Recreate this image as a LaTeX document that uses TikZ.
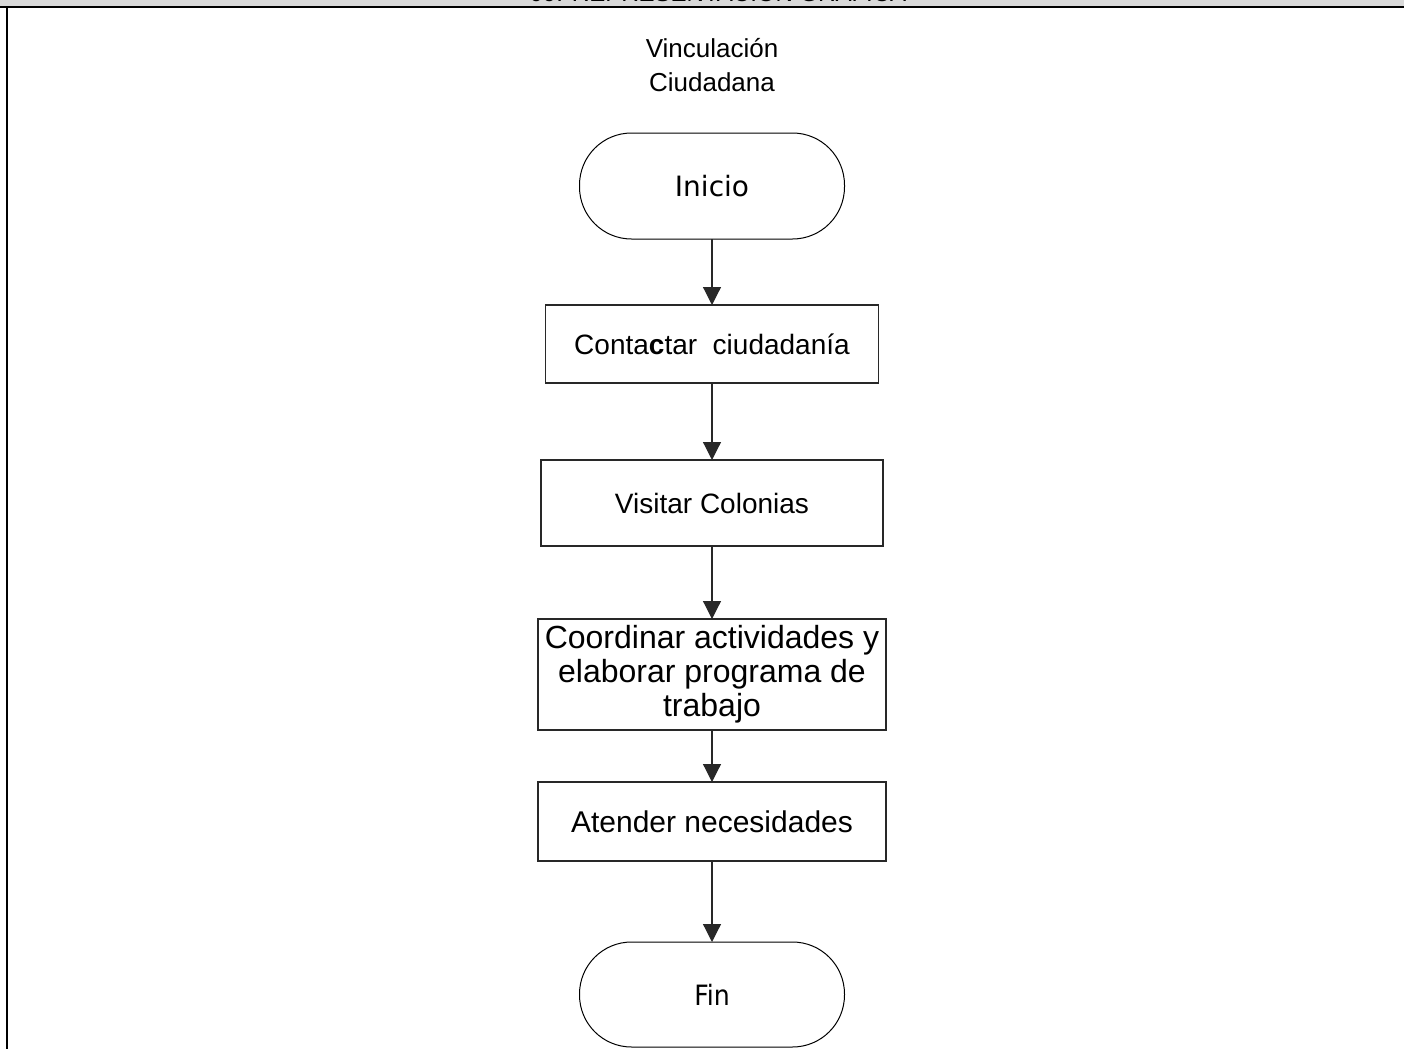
\documentclass[tikz,border=0pt]{standalone}
\usepackage{fontspec}
\setmainfont{Liberation Sans}
\newfontfamily\dejavu{DejaVu Sans}
\newfontfamily\dejavucond{DejaVu Sans Condensed}
\usetikzlibrary{arrows.meta, positioning}
\definecolor{headergrey}{RGB}{217, 217, 217}
\definecolor{lineblack}{RGB}{40, 40, 40}

\begin{document}
\begin{tikzpicture}[
    x=0.5pt, y=-0.5pt,
    node distance=36pt,
    stepbox/.style={
        rectangle, draw=lineblack, line width=0.6pt, inner sep=0pt, outer sep=0pt,
        minimum width=174pt, align=center, font=\fontsize{14}{17}\selectfont
    },
    endbox/.style={
        rectangle, rounded corners=26pt, draw=black, line width=0.5pt, inner sep=0pt, outer sep=0pt,
        minimum width=132.5pt, minimum height=53pt, font=\dejavu\fontsize{14}{17}\selectfont
    },
    flowarrow/.style={
        -{Triangle[length=9pt, width=9pt]}, line width=0.6pt, color=lineblack
    }
]
\useasboundingbox (0,0) rectangle (1404,1049);

% Header band and frame
\fill[headergrey] (0,0) rectangle (1404,6);
\node[anchor=base, inner sep=0pt, font=\fontsize{12}{14}\selectfont] (header) at (718,2) {09. REPRESENTACIÓN GRÁFICA};
\draw[line width=1.2pt] (0,7) -- (1404,7);
\draw[line width=1pt] (7,7) -- (7,1049);

% Nodes
\node[align=center, font=\fontsize{13}{17}\selectfont] (title) at (712,65) {Vinculación\\Ciudadana};
\node[endbox] (inicio) at (712,186) {Inicio};
\node[stepbox, minimum width=166.5pt, minimum height=39pt, below=33pt of inicio] (contactar) {Conta\textbf{c}tar\ \ ciudadanía};
\node[stepbox, minimum width=171pt, minimum height=43pt, below=38.5pt of contactar] (visitar) {Visitar Colonias};
\node[stepbox, minimum height=55.5pt, below=36.5pt of visitar, font=\fontsize{16}{17}\selectfont] (coordinar) {Coordinar actividades y\\elaborar programa de\\trabajo};
\node[stepbox, minimum height=39.5pt, below=26pt of coordinar, font=\fontsize{15}{17}\selectfont] (atender) {Atender necesidades};
\node[endbox, minimum height=52.5pt, below=40.5pt of atender, font=\dejavucond\fontsize{14}{17}\selectfont] (fin) {Fin};

% Connections
\draw[flowarrow] (inicio) -- (contactar);
\draw[flowarrow] (contactar) -- (visitar);
\draw[flowarrow] (visitar) -- (coordinar);
\draw[flowarrow] (coordinar) -- (atender);
\draw[flowarrow] (atender) -- (fin);

\end{tikzpicture}
\end{document}
